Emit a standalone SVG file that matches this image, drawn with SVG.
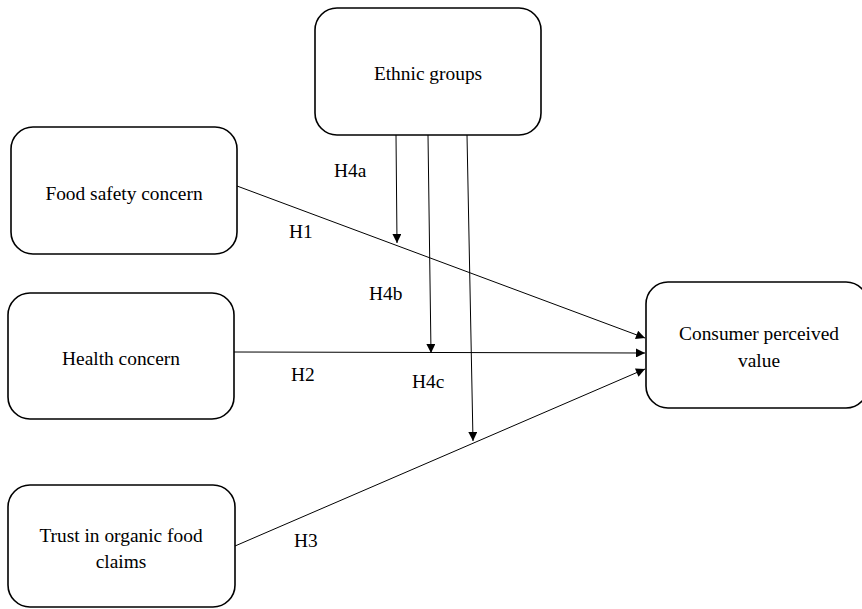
<svg xmlns="http://www.w3.org/2000/svg" width="862" height="609" viewBox="0 0 862 609">
<style>
.box{fill:#fff;stroke:#000;stroke-width:1.6}
.t{font-family:"Liberation Serif","Times New Roman",serif;font-size:19.4px;fill:#000}
.c{text-anchor:middle}
.ln{stroke:#000;stroke-width:1;fill:none;marker-end:url(#ah)}
</style>
<defs>
<marker id="ah" viewBox="0 0 10 10" refX="10" refY="5" markerWidth="11" markerHeight="9" markerUnits="userSpaceOnUse" orient="auto">
<path d="M0,0 L10,5 L0,10 Z" fill="#000"/>
</marker>
</defs>
<rect width="862" height="609" fill="#fff"/>
<g id="ethnic">
<rect class="box" x="315" y="8" width="226" height="127" rx="22"/>
<text class="t c" x="428" y="80">Ethnic groups</text>
</g>
<g id="food-safety">
<rect class="box" x="11" y="127" width="226" height="127" rx="22"/>
<text class="t c" x="124" y="200">Food safety concern</text>
</g>
<g id="health">
<rect class="box" x="8" y="293" width="226" height="126" rx="22"/>
<text class="t c" x="121" y="365">Health concern</text>
</g>
<g id="trust">
<rect class="box" x="8" y="485" width="227" height="122" rx="22"/>
<text class="t c" x="121" y="542">Trust in organic food</text>
<text class="t c" x="121" y="568">claims</text>
</g>
<g id="value">
<rect class="box" x="646" y="282" width="222" height="126" rx="22"/>
<text class="t c" x="759" y="340">Consumer perceived</text>
<text class="t c" x="759" y="367">value</text>
</g>
<g id="connectors">
<line class="ln" x1="237" y1="186" x2="645" y2="338"/>
<line class="ln" x1="234" y1="352" x2="645" y2="353"/>
<line class="ln" x1="235" y1="546" x2="645" y2="369"/>
<line class="ln" x1="396" y1="135" x2="397" y2="243"/>
<line class="ln" x1="428" y1="135" x2="431" y2="353"/>
<line class="ln" x1="467" y1="135" x2="473" y2="441"/>
</g>
<g id="labels">
<text class="t" x="334" y="177">H4a</text>
<text class="t" x="289" y="238">H1</text>
<text class="t" x="369" y="300">H4b</text>
<text class="t" x="291" y="381">H2</text>
<text class="t" x="412" y="388">H4c</text>
<text class="t" x="294" y="547">H3</text>
</g>
</svg>
